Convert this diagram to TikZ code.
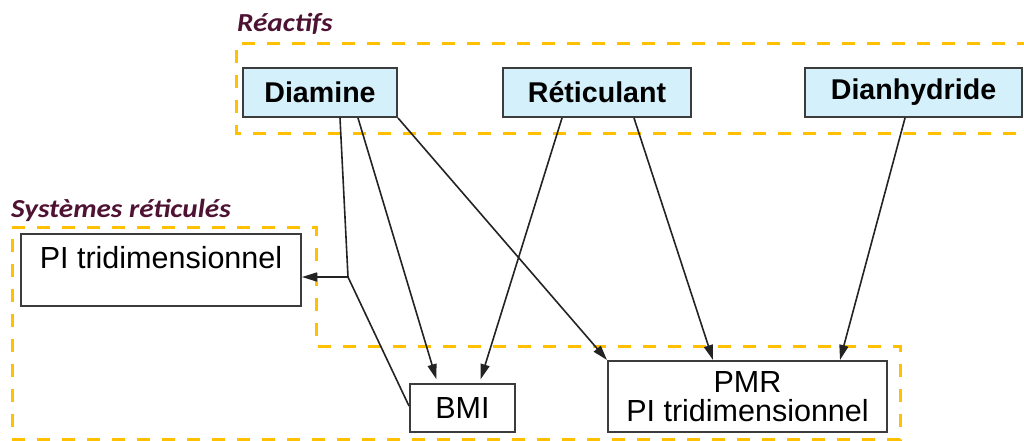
\documentclass[tikz,border=0pt]{standalone}
\usepackage{fontspec}
\setmainfont{Liberation Sans}
\newfontfamily\lblfont[FakeStretch=1.12]{Carlito}
\usetikzlibrary{arrows.meta}
\definecolor{gold}{RGB}{255,192,0}
\definecolor{boxblue}{RGB}{212,240,250}
\definecolor{maroon}{RGB}{78,18,50}
\definecolor{linegray}{RGB}{35,35,35}
\definecolor{bordergray}{RGB}{60,60,60}
\tikzset{
  groupline/.style={draw=gold, line width=3pt, dash pattern=on 13pt off 12pt},
  grouplabel/.style={anchor=base west, inner sep=0pt, text=maroon, font=\lblfont\fontsize{26}{28}\selectfont\bfseries\itshape},
  reactbox/.style={draw=bordergray, line width=2pt, fill=boxblue, inner sep=0pt, font=\fontsize{28.6}{30}\selectfont\bfseries},
  prodbox/.style={draw=bordergray, line width=2pt, fill=white, inner sep=0pt, align=center, font=\fontsize{30.5}{29}\selectfont},
  conn/.style={draw=linegray, line width=1.6pt},
  arr/.style={conn, -{Triangle[length=15pt,width=9pt]}},
}
\begin{document}
\begin{tikzpicture}[x=1pt,y=-1pt]
\useasboundingbox (0,0) rectangle (1024,441);
% groups
\draw[groupline] (1030,44) -- (236,44) -- (236,133) -- (1030,133);
\draw[groupline] (12,227) -- (316,227) -- (316,346) -- (900,346) -- (900,439) -- (12,439) -- cycle;
\node[grouplabel] (lreact) at (237,32) {Réactifs};
\node[grouplabel] (lsys) at (11,217) {Systèmes réticulés};
% reactants
\node[reactbox, minimum width=154pt, minimum height=49pt] (diamine) at (320,92.5) {Diamine};
\node[reactbox, minimum width=188pt, minimum height=49pt] (retic) at (597,92.5) {Réticulant};
\node[reactbox, minimum width=217pt, minimum height=49pt] (dianh) at (913.5,92.5) {Dianhydride};
% products
\node[prodbox, anchor=north west, minimum width=280pt, text height=34pt, text depth=38pt, inner ysep=0pt] (pil) at (20,233) {PI tridimensionnel};
\node[prodbox, minimum width=105pt, minimum height=48pt] (bmi) at (462.5,408) {BMI};
\node[prodbox, minimum width=279pt, minimum height=71pt] (pmr) at (747.5,396.5) {PMR\\PI tridimensionnel};
% connectors
\coordinate (J) at (348,277);
\draw[conn] ([xshift=20pt]diamine.south) -- (J);
\draw[arr] (J) -- (J -| pil.east);
\draw[conn] (J) -- ([yshift=2pt]bmi.west);
\draw[arr, shorten >=4pt] ([xshift=38pt]diamine.south) -- ([xshift=-25pt]bmi.north);
\draw[arr] (diamine.south east) -- (pmr.north west);
\draw[arr, shorten >=4pt] ([xshift=-35pt]retic.south) -- ([xshift=17pt]bmi.north);
\draw[arr] ([xshift=37pt]retic.south) -- ([xshift=-34.5pt]pmr.north);
\draw[arr] ([xshift=-8.5pt]dianh.south) -- ([xshift=92.5pt]pmr.north);
\end{tikzpicture}
\end{document}
